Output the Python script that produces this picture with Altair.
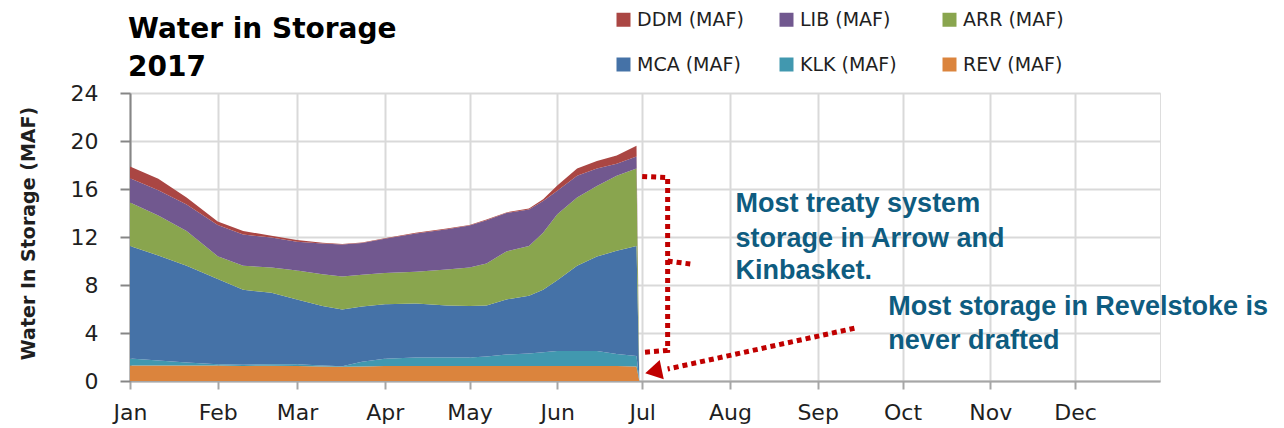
import altair as alt
import pandas as pd

# ---- data ----
dates = ["2017-01-01", "2017-01-11", "2017-01-21", "2017-02-01", "2017-02-10",
         "2017-02-20", "2017-03-01", "2017-03-10", "2017-03-17", "2017-03-24",
         "2017-04-01", "2017-04-12", "2017-04-23", "2017-05-01", "2017-05-07",
         "2017-05-14", "2017-05-22", "2017-05-27", "2017-06-01", "2017-06-08",
         "2017-06-15", "2017-06-22", "2017-06-29", "2017-06-30"]
rev = [1.30, 1.30, 1.30, 1.30, 1.25, 1.28, 1.25, 1.20, 1.18, 1.20, 1.25, 1.25,
       1.25, 1.25, 1.25, 1.25, 1.25, 1.25, 1.25, 1.25, 1.25, 1.25, 1.20, 0.0]
klk = [0.57, 0.40, 0.25, 0.10, 0.10, 0.12, 0.15, 0.10, 0.04, 0.40, 0.60, 0.70,
       0.70, 0.70, 0.80, 0.95, 1.05, 1.15, 1.25, 1.25, 1.25, 1.00, 0.88, 0.0]
mca = [9.38, 8.75, 8.05, 7.10, 6.25, 5.95, 5.40, 4.95, 4.73, 4.60, 4.55, 4.50,
       4.35, 4.30, 4.25, 4.60, 4.80, 5.20, 5.90, 7.10, 7.87, 8.60, 9.17, 0.0]
arr = [3.62, 3.35, 2.90, 1.90, 2.00, 2.10, 2.40, 2.65, 2.75, 2.65, 2.60, 2.65,
       3.00, 3.20, 3.50, 4.00, 4.15, 4.75, 5.50, 5.70, 5.88, 6.25, 6.45, 0.0]
lib = [2.03, 2.10, 2.20, 2.60, 2.60, 2.50, 2.40, 2.55, 2.68, 2.65, 2.85, 3.20,
       3.35, 3.50, 3.60, 3.20, 3.05, 2.65, 1.95, 1.80, 1.45, 1.00, 1.00, 0.0]
ddm = [0.97, 0.95, 0.60, 0.30, 0.30, 0.15, 0.15, 0.08, 0.04, 0.05, 0.05, 0.05,
       0.05, 0.05, 0.05, 0.05, 0.08, 0.15, 0.45, 0.60, 0.63, 0.70, 0.90, 0.0]

# bottom-to-top stacking order
stack_series = ["REV (MAF)", "KLK (MAF)", "MCA (MAF)", "ARR (MAF)", "LIB (MAF)", "DDM (MAF)"]
# legend order (column-major for a 3-column, 2-row grid)
legend_series = ["DDM (MAF)", "MCA (MAF)", "LIB (MAF)", "KLK (MAF)", "ARR (MAF)", "REV (MAF)"]
legend_colors = ["#AA4643", "#4572A7", "#71588F", "#4198AF", "#89A54E", "#DB843D"]
month_ticks = [f"2017-{m:02d}-01T00:00:00" for m in range(1, 13)]
y_ticks = [0, 4, 8, 12, 16, 20, 24]

title_lines = ["Water in Storage", "2017"]

# annotations (data coordinates)
note_dates = ["2017-08-03", "2017-08-03", "2017-08-03", "2017-09-26", "2017-09-26"]
note_values = [14.72, 11.81, 9.14, 6.14, 3.33]
note_texts = ["Most treaty system", "storage in Arrow and", "Kinbasket.",
              "Most storage in Revelstoke is", "never drafted"]

bracket_seg = ["b", "b", "b", "b", "t", "t", "a", "a"]
bracket_dates = ["2017-07-01", "2017-07-10", "2017-07-10", "2017-07-02",
                 "2017-07-10", "2017-07-18", "2017-09-14", "2017-07-10"]
bracket_values = [17.05, 16.95, 2.55, 2.40, 10.0, 9.75, 4.40, 1.00]
arrow_date = ["2017-07-05"]
arrow_value = [0.80]

# ---- tables ----
rows = []
for rank, (name, vals) in enumerate(zip(stack_series, [rev, klk, mca, arr, lib, ddm])):
    for d, v in zip(dates, vals):
        rows.append({"date": d + "T00:00:00", "series": name, "value": v, "rank": rank})
df = pd.DataFrame(rows)

notes = pd.DataFrame({"date": [d + "T00:00:00" for d in note_dates],
                      "value": note_values, "text": note_texts})
lines = pd.DataFrame({"date": [d + "T00:00:00" for d in bracket_dates],
                      "value": bracket_values, "seg": bracket_seg,
                      "idx": list(range(len(bracket_values)))})
arrow = pd.DataFrame({"date": [d + "T00:00:00" for d in arrow_date], "value": arrow_value})
dummy = pd.DataFrame({"k": [0]})

xscale = alt.Scale(domain=["2017-01-01T00:00:00", "2017-12-31T00:00:00"])
yscale = alt.Scale(domain=[0, 24], nice=False)

AX_FONT = "DejaVu Sans"

area = alt.Chart(df).mark_area(interpolate="linear", opacity=1).encode(
    x=alt.X("date:T", scale=xscale, title=None,
            axis=alt.Axis(values=month_ticks, format="%b", labelFont=AX_FONT,
                          labelFontSize=22, labelColor="#1F1F1F", labelPadding=13,
                          tickSize=8, tickColor="#A6A6A6", tickWidth=2,
                          domainColor="#A6A6A6", domainWidth=2,
                          gridColor="#D9D9D9", gridWidth=2, labelFlush=False)),
    y=alt.Y("value:Q", stack="zero", scale=yscale,
            axis=alt.Axis(values=y_ticks, title="Water In Storage (MAF)",
                          titleFont=AX_FONT, titleFontSize=19, titleFontWeight="bold",
                          titleColor="#1F1F1F", titleX=-102, titleY=140,
                          titleAlign="center", titleBaseline="middle", titleAngle=270,
                          labelFont=AX_FONT, labelFontSize=22, labelColor="#1F1F1F",
                          labelPadding=22, tickSize=10, tickColor="#868686",
                          tickWidth=2, domainColor="#868686", domainWidth=2,
                          gridColor="#D9D9D9", gridWidth=2)),
    color=alt.Color("series:N", scale=alt.Scale(domain=legend_series, range=legend_colors),
                    legend=alt.Legend(orient="none", legendX=484, legendY=-83,
                                      columns=3, title=None, symbolType="square",
                                      symbolSize=196, symbolStrokeWidth=0,
                                      symbolOpacity=1, labelFont=AX_FONT,
                                      labelFontSize=19, labelColor="#1F1F1F",
                                      labelOffset=4, columnPadding=33, rowPadding=25,
                                      gridAlign="all", padding=0)),
    order=alt.Order("rank:Q", sort="ascending"),
)

note_layer = alt.Chart(notes).mark_text(
    align="left", baseline="middle", font="Liberation Sans", fontWeight="bold",
    fontSize=27, color="#0E5C80"
).encode(x=alt.X("date:T", scale=xscale), y=alt.Y("value:Q", scale=yscale, stack=None),
         text="text:N")

line_layer = alt.Chart(lines).mark_line(
    color="#C00000", strokeWidth=5, strokeDash=[5, 4], strokeCap="butt"
).encode(x=alt.X("date:T", scale=xscale), y=alt.Y("value:Q", scale=yscale, stack=None),
         detail="seg:N", order="idx:Q")

arrow_layer = alt.Chart(arrow).mark_point(
    shape="triangle-left", filled=True, size=380, angle=348, color="#C00000", opacity=1
).encode(x=alt.X("date:T", scale=xscale), y=alt.Y("value:Q", scale=yscale, stack=None))

title1 = alt.Chart(dummy).mark_text(
    align="left", baseline="middle", font=AX_FONT, fontSize=28, fontWeight="bold",
    color="black", text=title_lines[0]
).encode(x=alt.value(-2), y=alt.value(-63))
title2 = alt.Chart(dummy).mark_text(
    align="left", baseline="middle", font=AX_FONT, fontSize=28, fontWeight="bold",
    color="black", text=title_lines[1]
).encode(x=alt.value(-2), y=alt.value(-25))

chart = alt.layer(area, line_layer, arrow_layer, note_layer, title1, title2).properties(
    width=1030, height=288,
    autosize=alt.AutoSizeParams(type="none"),
    padding={"left": 122, "top": 85, "right": 116, "bottom": 46},
).configure_view(stroke="#D9D9D9", strokeWidth=2.5).configure(background="white")

chart.save("out.html", embed_options={"renderer": "svg", "actions": False})
